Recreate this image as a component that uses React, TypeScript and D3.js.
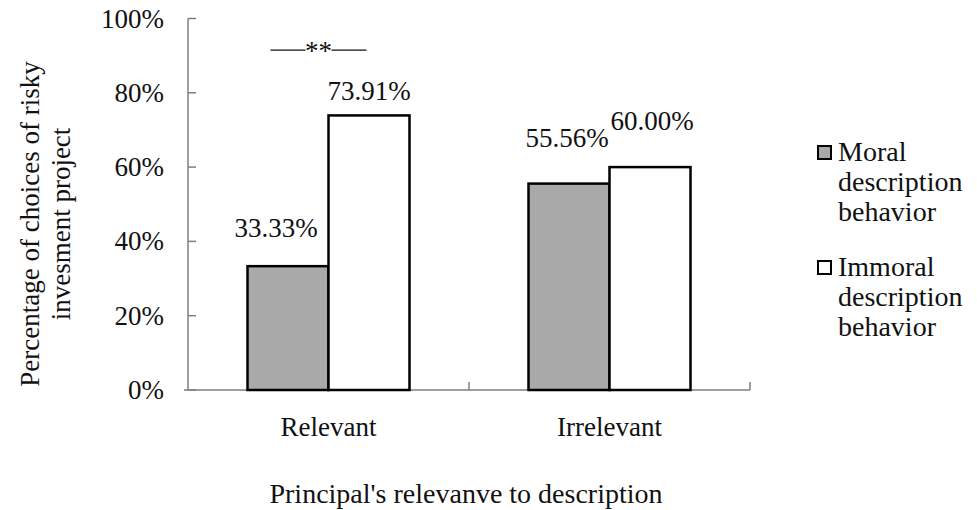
import React from "react";
import * as d3 from "d3";

const categories = ["Relevant", "Irrelevant"];
const seriesNames = ["Moral description behavior", "Immoral description behavior"];
const legendLines = [["Moral", "description", "behavior"], ["Immoral", "description", "behavior"]];
const moralValues = [33.33, 55.56];
const immoralValues = [73.91, 60.0];
const yTicks = [0, 20, 40, 60, 80, 100];
const seriesFills = ["#a9a9a9", "#ffffff"];
// label offsets (dx, dy) relative to bar top-center, as in the original Excel layout
const labelOffsets = [
  [[-12, -29], [-2, -37]],
  [[0, -15], [2, -37]],
];

const W = 977, H = 510;
const plotLeft = 188, plotRight = 750, plotTop = 18.5, plotBottom = 390;
const FONT = "Liberation Serif";
const FS = 27;
const ts = { fontFamily: FONT };

export default function App() {
  const x = d3.scaleBand<string>().domain(categories).range([plotLeft, plotRight]).paddingInner(0).paddingOuter(0);
  const groupW = 162;
  const inner = d3.scaleBand<number>().domain([0, 1]).range([0, groupW]);
  const y = d3.scaleLinear().domain([0, 100]).range([plotBottom, plotTop]);
  const series = [moralValues, immoralValues];
  const sigY = y(91.5);

  return (
    <svg width={W} height={H} style={{ position: "absolute", left: 0, top: 0, background: "#fff", fontFamily: FONT }}>
      <rect x={0} y={0} width={W} height={H} fill="#fff" />
      {/* y axis */}
      <line x1={plotLeft} x2={plotLeft} y1={plotTop} y2={plotBottom} stroke="#7f7f7f" strokeWidth={1.5} />
      {yTicks.map((t) => (
        <g key={t}>
          <line x1={plotLeft} x2={plotLeft + 8} y1={y(t)} y2={y(t)} stroke="#7f7f7f" strokeWidth={1.5} />
          <text x={164} y={y(t) + 9} textAnchor="end" fontSize={FS} fill="#111" style={ts}>{t}%</text>
        </g>
      ))}
      {/* x axis */}
      <line x1={plotLeft - 4} x2={plotRight} y1={plotBottom} y2={plotBottom} stroke="#7f7f7f" strokeWidth={1.5} />
      {[plotLeft + x.bandwidth(), plotRight].map((v, i) => (
        <line key={i} x1={v} x2={v} y1={plotBottom} y2={plotBottom - 8} stroke="#7f7f7f" strokeWidth={1.5} />
      ))}
      {/* bars */}
      {categories.map((c, ci) => {
        const gx = (x(c) as number) + (x.bandwidth() - groupW) / 2;
        return (
          <g key={c}>
            {series.map((vals, si) => {
              const bx = gx + (inner(si) as number);
              const top = y(vals[ci]);
              return (
                <rect key={si} x={bx} y={top} width={inner.bandwidth()} height={plotBottom - top}
                  fill={seriesFills[si]} stroke="#000" strokeWidth={2.5} />
              );
            })}
            {series.map((vals, si) => {
              const bx = gx + (inner(si) as number) + inner.bandwidth() / 2;
              const top = y(vals[ci]);
              const [dx, dy] = labelOffsets[si][ci];
              return (
                <text key={"l" + si} x={bx + dx} y={top + dy} textAnchor="middle" fontSize={FS} fill="#111" style={ts}>
                  {vals[ci].toFixed(2)}%
                </text>
              );
            })}
            <text x={(x(c) as number) + x.bandwidth() / 2} y={436} textAnchor="middle" fontSize={FS} fill="#111" style={ts}>{c}</text>
          </g>
        );
      })}
      {/* significance marker */}
      {(() => {
        const c0 = (x(categories[0]) as number) + x.bandwidth() / 2 - 10;
        return (
          <g>
            <line x1={c0 - 48} x2={c0 - 13} y1={sigY} y2={sigY} stroke="#111" strokeWidth={1.1} />
            <text x={c0} y={sigY + 10} textAnchor="middle" fontSize={FS} fill="#111" style={ts}>**</text>
            <line x1={c0 + 13} x2={c0 + 48} y1={sigY} y2={sigY} stroke="#111" strokeWidth={1.1} />
          </g>
        );
      })()}
      {/* axis titles */}
      <text x={466} y={503} textAnchor="middle" fontSize={28} fill="#111" style={ts}>Principal's relevanve to description</text>
      <g transform={`translate(39, 224) rotate(-90)`}>
        <text x={0} y={0} textAnchor="middle" fontSize={FS} fill="#111" style={ts}>Percentage of choices of risky</text>
        <text x={0} y={31} textAnchor="middle" fontSize={FS} fill="#111" style={ts}>invesment project</text>
      </g>
      {/* legend */}
      {seriesNames.map((name, i) => {
        const ly = 146 + i * 115;
        return (
          <g key={name}>
            <rect x={818} y={ly} width={13} height={13} fill={seriesFills[i]} stroke="#000" strokeWidth={2} />
            <text x={838} y={ly + 15} fontSize={28} fill="#111" style={ts}>
              {legendLines[i].map((w, k) => (
                <tspan key={k} x={838} dy={k === 0 ? 0 : 30}>{w}</tspan>
              ))}
            </text>
          </g>
        );
      })}
    </svg>
  );
}
